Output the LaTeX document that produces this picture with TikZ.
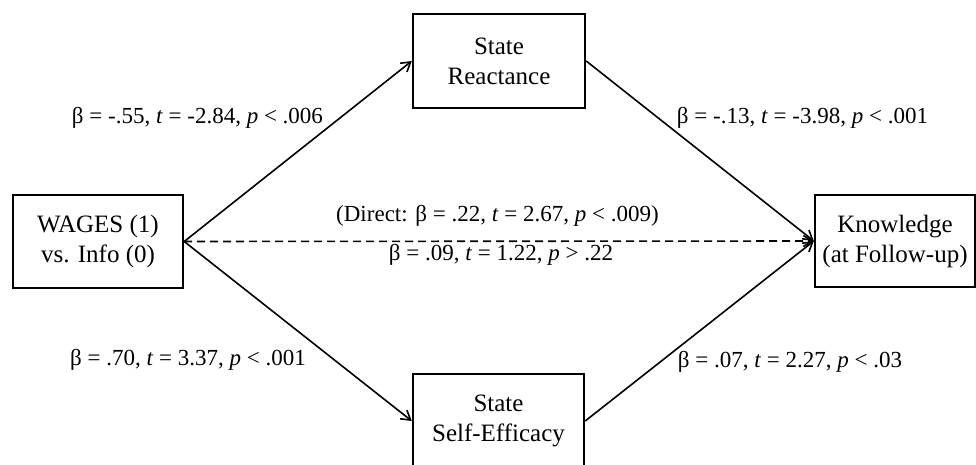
\documentclass[tikz,border=0pt]{standalone}
\usepackage{fontspec}
\setmainfont{Liberation Serif}
\usetikzlibrary{arrows.meta}
\begin{document}
\begin{tikzpicture}[x=1pt,y=-1pt,
  box/.style={draw, line width=2.4pt, align=center, inner sep=0pt, font=\fontsize{25}{30}\selectfont},
  lab/.style={inner sep=0pt, font=\fontsize{23}{29}\selectfont},
  conn/.style={line width=1.6pt, -{Straight Barb[length=9pt,width=11pt,line width=1.6pt]}},
  dconn/.style={conn, dash pattern=on 8pt off 5pt}]
\useasboundingbox (0,0) rectangle (976,465);
\clip (0,0) rectangle (976,465);
\node[box, minimum width=170pt, minimum height=93pt] (w) at (98,241.5) {WAGES (1)\\vs. Info (0)};
\node[box, minimum width=172pt, minimum height=94pt] (r) at (499,61) {State\\Reactance};
\node[box, minimum width=171pt, minimum height=94pt] (e) at (498.5,421) {State\\Self-Efficacy};
\node[box, minimum width=160pt, minimum height=92pt] (k) at (895,241) {Knowledge\\(at Follow-up)};
\draw[conn] (w.east) -- (r.west);
\draw[conn] (w.east) -- (e.west);
\draw[conn] (r.east) -- (k.west);
\draw[conn] (e.east) -- (k.west);
\draw[dconn] (w.east) -- (k.west);
\node[lab] (l1) at (197.5,118) {β = -.55, \textit{t} = -2.84, \textit{p} < .006};
\node[lab] (l2) at (802.5,118) {β = -.13, \textit{t} = -3.98, \textit{p} < .001};
\node[lab] (l3) at (188,360) {β = .70, \textit{t} = 3.37, \textit{p} < .001};
\node[lab] (l4) at (790,362) {β = .07, \textit{t} = 2.27, \textit{p} < .03};
\node[lab] (l5) at (497.5,216) {(Direct: β = .22, \textit{t} = 2.67, \textit{p} < .009)};
\node[lab] (l6) at (501,255) {β = .09, \textit{t} = 1.22, \textit{p} > .22};
\end{tikzpicture}
\end{document}
